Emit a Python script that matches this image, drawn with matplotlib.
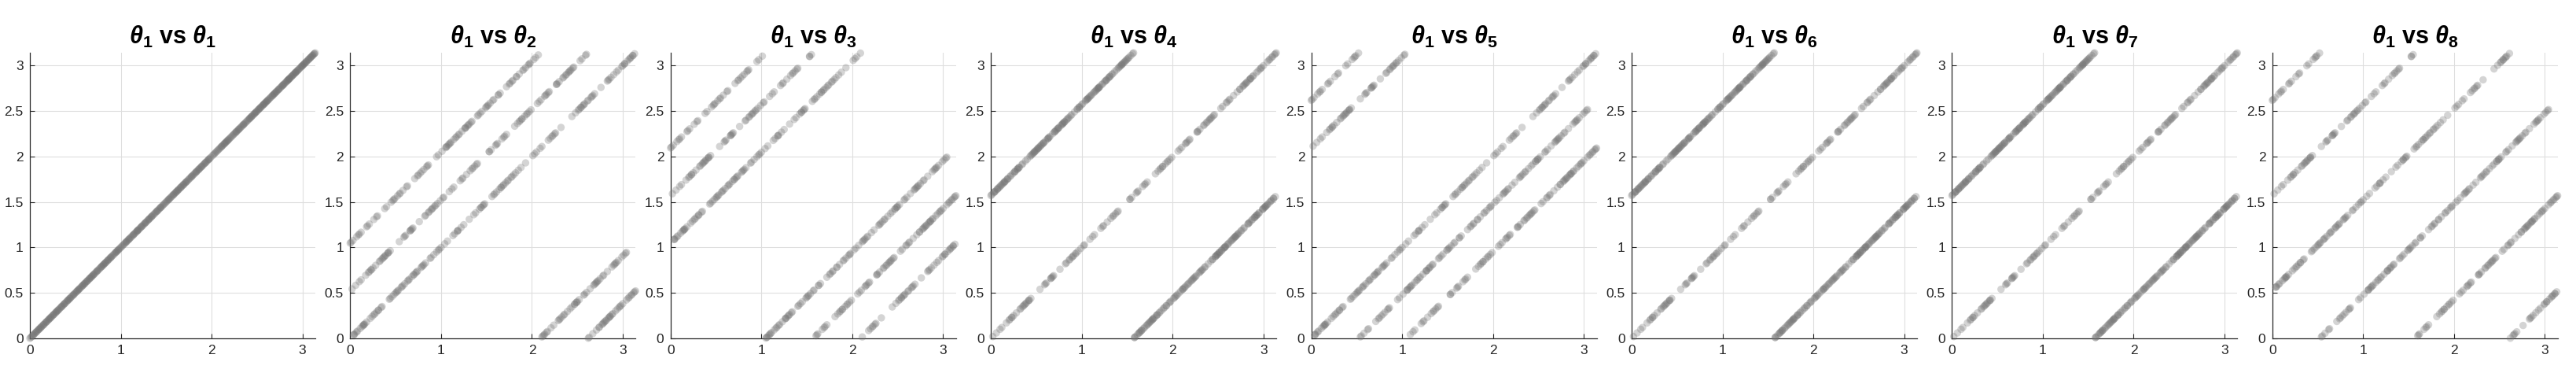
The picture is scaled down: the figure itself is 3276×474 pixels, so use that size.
import numpy as np
import matplotlib
matplotlib.use('Agg')
from matplotlib import pyplot as plt

plt.rcParams['font.family'] = ['Liberation Sans', 'DejaVu Sans']
plt.rcParams['mathtext.fontset'] = 'custom'
plt.rcParams['mathtext.rm'] = 'Liberation Sans:bold'
plt.rcParams['mathtext.it'] = 'Liberation Sans:italic:bold'
plt.rcParams['mathtext.bf'] = 'Liberation Sans:bold'

# theta_1 samples (radians)
theta1 = [
    1.73, 0.42, 2.88, 0.07, 2.15, 1.26, 3.02, 0.91, 2.47, 1.58, 0.33, 2.71, 1.04, 0.66, 2.29, 3.11, 1.89, 0.18, 2.56, 1.37,
    0.79, 2.03, 2.94, 0.54, 1.66, 0.12, 2.39, 1.15, 2.82, 0.97, 1.48, 3.07, 0.26, 2.61, 1.81, 0.71, 2.20, 1.32, 0.03, 2.99,
    1.95, 0.47, 2.52, 1.09, 0.85, 2.76, 1.61, 0.21, 2.11, 3.13, 0.63, 1.42, 2.67, 0.38, 1.77, 2.34, 0.95, 2.90, 1.21, 0.58,
    2.44, 1.53, 0.10, 2.85, 1.99, 0.75, 2.25, 1.12, 3.04, 0.44, 1.69, 2.58, 0.29, 1.86, 2.73, 0.88, 1.40, 2.07, 0.15, 2.96,
    1.29, 0.68, 2.37, 1.63, 0.05, 2.79, 1.91, 0.50, 2.14, 1.01, 3.09, 0.36, 2.64, 1.46, 0.82, 2.49, 1.74, 0.23, 2.92, 1.18,
    0.60, 2.31, 1.56, 0.93, 2.69, 0.14, 1.84, 2.42, 1.07, 3.00, 0.40, 2.18, 1.35, 0.77, 2.84, 1.97, 0.30, 2.54, 1.24, 0.01,
    2.62, 1.70, 0.86, 2.09, 3.12, 0.52, 1.44, 2.80, 0.19, 1.93, 2.27, 1.14, 0.70, 2.97, 1.51, 0.35, 2.41, 1.79, 0.98, 2.74,
    0.09, 1.31, 2.53, 0.62, 1.88, 3.06, 0.45, 2.23, 1.60, 0.81, 2.66, 1.02, 2.91, 0.27, 1.67, 2.12, 0.56, 2.86, 1.19, 0.74,
    2.35, 1.45, 0.16, 2.77, 1.98, 0.89, 2.59, 1.27, 0.48, 3.10, 1.83, 0.64, 2.19, 1.54, 0.04, 2.45, 1.10, 2.83, 0.37, 1.72,
    2.05, 0.99, 2.70, 0.24, 1.39, 2.95, 0.72, 1.62, 2.30, 0.11, 1.87, 2.57, 0.57, 1.23, 3.03, 0.83, 2.16, 1.49, 0.31, 2.78,
    1.34, 2.48, 0.67, 1.78, 2.87, 0.20, 1.06, 2.26, 3.14, 0.00,
    0.46, 1.92, 2.33, 0.13, 2.81, 1.57, 0.78, 2.60, 1.11, 3.08, 0.39, 2.02, 1.68, 0.87, 2.50, 1.22, 0.06, 2.93, 1.85, 0.61,
    2.72, 1.36, 0.28, 2.17, 1.64, 0.94, 3.01, 0.53, 2.40, 1.16, 0.73, 2.89, 1.52, 0.22, 2.10, 1.96, 0.43, 2.63, 1.30, 0.80,
    2.98, 1.05, 0.34, 2.55, 1.76, 0.65, 2.28, 1.43, 0.08, 2.84, 1.90, 0.51, 2.43, 1.17, 3.05, 0.90, 2.13, 1.59, 0.25, 2.68,
    1.25, 0.59, 2.36, 1.82, 0.02, 2.75, 1.47, 0.96, 2.21, 3.13, 0.41, 1.65, 2.51, 0.76, 1.08, 2.93, 0.17, 2.04, 1.38, 0.69,
    2.60, 1.80, 0.32, 2.24, 1.13, 2.88, 0.55, 1.71, 2.46, 0.84, 3.07, 1.28, 0.12, 2.65, 1.94, 0.49, 2.32, 1.03, 2.79, 0.63,
    1.55, 2.99, 0.26, 2.08, 1.41, 0.92, 2.71, 1.20, 0.04, 2.38, 1.75, 0.58, 2.86, 1.33, 0.79, 2.18, 1.63, 3.11, 0.35, 2.52,
    0.97, 2.27, 1.50, 0.15, 2.74, 1.86, 0.70, 2.42, 1.09, 2.95, 0.44, 1.97, 2.58, 0.83, 1.27, 3.02, 0.21, 2.11, 1.69, 0.54,
    2.83, 1.19, 0.38, 2.49, 1.78, 0.66, 2.16, 1.44, 0.10, 2.90, 1.61, 0.86, 2.35, 1.00, 3.09, 0.48, 2.01, 1.53, 0.29, 2.67,
    1.34, 0.74, 2.57, 1.89, 0.07, 2.22, 1.14, 2.78, 0.60, 1.72, 2.44, 0.95, 3.04, 1.40, 0.31, 2.06, 1.83, 0.52, 2.62, 1.23,
    0.18, 2.92, 1.58, 0.81, 2.30, 1.06, 2.69, 0.42, 1.93, 2.54, 0.68, 1.31, 3.00, 0.23, 2.14, 1.66, 0.89, 2.47, 1.18, 2.85,
]

# phase offset of theta_k relative to theta_1, in units of pi/6, cycled over the samples
panel_k = [1, 2, 3, 4, 5, 6, 7, 8]
offsets = [
    [0],
    [0, 1, 2],
    [2, 3, 4],
    [3, 0, 3],
    [0, 4, 5],
    [3, 0, 3],
    [3, 0, 3],
    [1, 3, 5],
]

xticks = [0, 1, 2, 3]
yticks = [0, 0.5, 1, 1.5, 2, 2.5, 3]
ytick_labels = ['0', '0.5', '1', '1.5', '2', '2.5', '3']

W, H = 3276, 474
fig = plt.figure(figsize=(W / 100, H / 100), dpi=100)
fig.set_facecolor('white')

x1 = np.array(theta1)
for i, (k, offs) in enumerate(zip(panel_k, offsets)):
    ax = fig.add_axes([(38 + i * 407.4) / W, 44 / H, 363 / W, 363 / H])
    shift = np.array([offs[j % len(offs)] for j in range(len(x1))]) * np.pi / 6
    yk = np.mod(x1 + shift, np.pi)
    ax.scatter(x1, yk, s=46, color='0.45', alpha=0.3, edgecolors='none', clip_on=False, zorder=3)

    ax.set_xlim(0, np.pi)
    ax.set_ylim(0, np.pi)
    ax.set_xticks(xticks)
    ax.set_xticklabels([str(t) for t in xticks])
    ax.set_yticks(yticks)
    ax.set_yticklabels(ytick_labels)
    ax.grid(True, color='0.87', linewidth=0.8)
    ax.set_axisbelow(True)
    for side in ['top', 'right']:
        ax.spines[side].set_visible(False)
    for side in ['left', 'bottom']:
        ax.spines[side].set_color('0.15')
        ax.spines[side].set_linewidth(0.9)
    ax.tick_params(direction='in', length=4, width=0.8, colors='0.15', labelsize=12.5, pad=6)
    ax.set_title(r'$\theta_1$ vs $\theta_%d$' % k, fontsize=22, fontweight='bold', pad=8)

fig.savefig('out.png', dpi=100, facecolor='white')
